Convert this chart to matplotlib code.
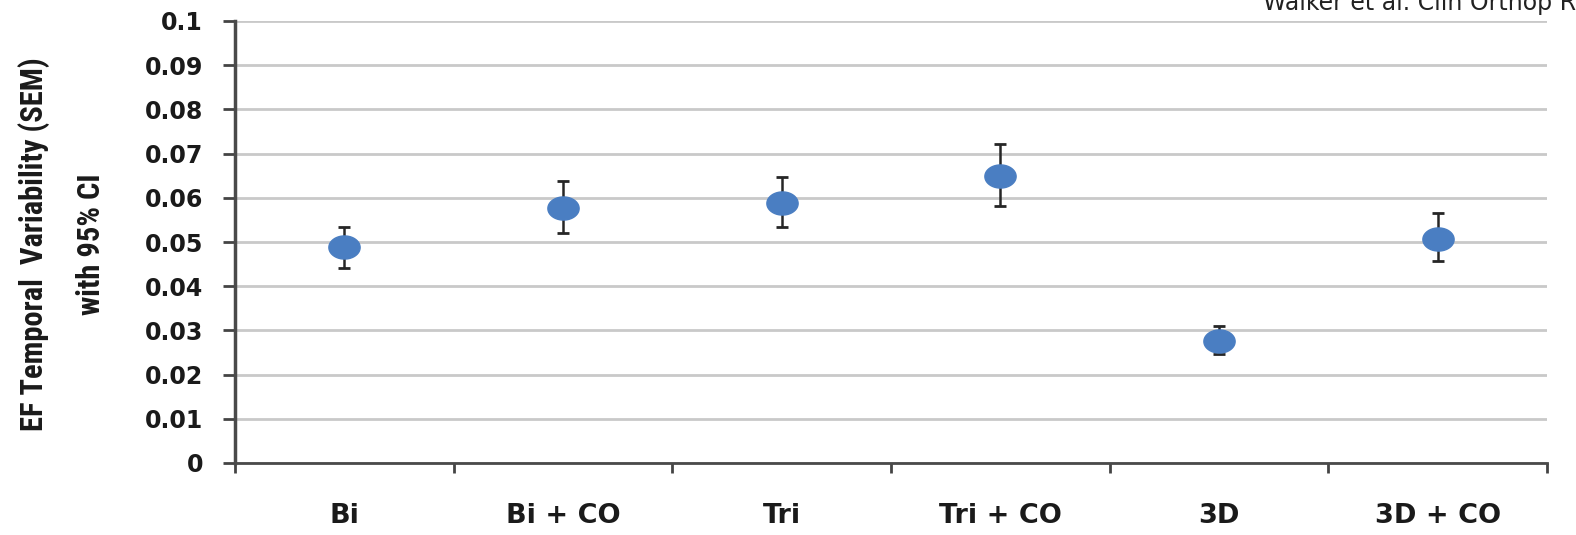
import matplotlib
matplotlib.use("Agg")
import matplotlib.pyplot as plt
from matplotlib import font_manager
from matplotlib.path import Path
import numpy as np

categories = ["Bi", "Bi + CO", "Tri", "Tri + CO", "3D", "3D + CO"]
values = [0.0488, 0.0578, 0.0589, 0.0650, 0.0277, 0.0507]
err_low = [0.0442, 0.0521, 0.0534, 0.0581, 0.0247, 0.0456]
err_high = [0.0535, 0.0639, 0.0647, 0.0722, 0.0311, 0.0565]
yticks = [0, 0.01, 0.02, 0.03, 0.04, 0.05, 0.06, 0.07, 0.08, 0.09, 0.1]
ytick_labels = ["0", "0.01", "0.02", "0.03", "0.04", "0.05", "0.06", "0.07", "0.08", "0.09", "0.1"]
ylabel = "EF Temporal  Variability (SEM)\nwith 95% CI"
source_text = "Walker et al. Clin Orthop Relat Res"


def has_font(name):
    try:
        font_manager.findfont(font_manager.FontProperties(family=name), fallback_to_default=False)
        return True
    except Exception:
        return False

label_font, label_size = "DejaVu Sans", 14
for name, size in [("Roboto Condensed", 22), ("Liberation Sans Narrow", 22),
                   ("Open Sans Condensed", 22), ("DejaVu Sans Condensed", 18),
                   ("Roboto", 17), ("Liberation Sans", 17)]:
    if has_font(name):
        label_font, label_size = name, size
        break

W, H = 1576, 535
fig = plt.figure(figsize=(W / 100, H / 100), dpi=100)
ax = fig.add_axes([235 / W, 1 - 463 / H, (1547 - 235) / W, (463 - 21) / H])

x = np.arange(len(categories)) + 0.5
vals = np.array(values)
yerr = np.vstack([vals - np.array(err_low), np.array(err_high) - vals])

# ellipse marker
t = np.linspace(0, 2 * np.pi, 60)
ell = Path(np.column_stack([np.cos(t), 0.74 * np.sin(t)]), closed=True)

ax.errorbar(x, vals, yerr=yerr, fmt="none", ecolor="#262626", elinewidth=1.8,
            capsize=4.2, capthick=2.0, zorder=3)
ax.plot(x, vals, linestyle="none", marker=ell, markersize=22.5,
        markerfacecolor="#4a7ec2", markeredgecolor="#4a7ec2", zorder=4)

ax.set_xlim(0, len(categories))
ax.set_ylim(0, 0.1)
ax.set_yticks(yticks)
ax.set_yticklabels(ytick_labels, fontsize=17, fontweight="bold", color="#1a1a1a")
ax.yaxis.grid(True, color="#c9c9c9", linewidth=2.0)
ax.set_axisbelow(True)

ax.set_xticks(np.arange(len(categories) + 1))
ax.set_xticklabels([""] * (len(categories) + 1))
ax.set_xticks(x, minor=True)
ax.set_xticklabels(categories, minor=True, fontsize=19.5, fontweight="bold", color="#1a1a1a")
ax.tick_params(axis="x", which="minor", length=0, pad=29)
ax.tick_params(axis="x", which="major", length=7, width=2, color="#444444", direction="out")
ax.tick_params(axis="y", length=9, width=2, color="#444444", direction="out", pad=14)

for s in ["top", "right"]:
    ax.spines[s].set_visible(False)
ax.spines["left"].set_color("#4a4a4a")
ax.spines["left"].set_linewidth(2.5)
ax.spines["bottom"].set_color("#4a4a4a")
ax.spines["bottom"].set_linewidth(2.0)

ax.set_ylabel(ylabel, fontsize=label_size, family=label_font, fontweight="bold",
              color="#1a1a1a", linespacing=2.05, va="center")
ax.yaxis.set_label_coords((62 - 235) / (1547 - 235), 0.495)

fig.text(1263 / W, 1 - 10 / H, source_text, fontsize=17, color="#222222",
         ha="left", va="baseline")

fig.savefig("out.png", dpi=100)
